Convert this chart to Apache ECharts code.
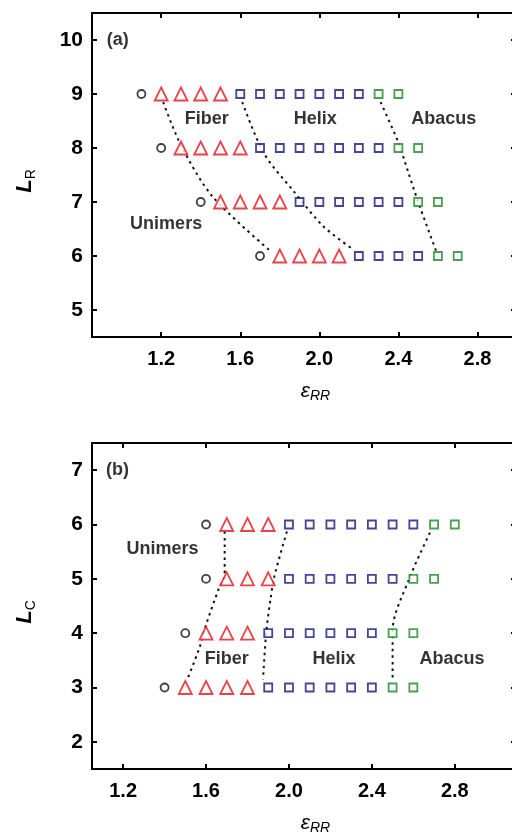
<!DOCTYPE html>
<html>
<head>
<meta charset="utf-8">
<script src="https://cdn.jsdelivr.net/npm/echarts@6/dist/echarts.min.js"></script>
<style>
html,body{margin:0;padding:0;background:#fff;}
#chart{width:512px;height:834px;}
</style>
</head>
<body>
<div id="chart"></div>
<script>
// ---------- DATA ----------
// Panel (a): L_R vs eps_RR
const xTicksA = [1.2, 1.6, 2.0, 2.4, 2.8];
const yTicksA = [5, 6, 7, 8, 9, 10];
const unimersA = [[1.1, 9], [1.2, 8], [1.4, 7], [1.7, 6]];
const fiberA = [
  [1.2, 9], [1.3, 9], [1.4, 9], [1.5, 9],
  [1.3, 8], [1.4, 8], [1.5, 8], [1.6, 8],
  [1.5, 7], [1.6, 7], [1.7, 7], [1.8, 7],
  [1.8, 6], [1.9, 6], [2.0, 6], [2.1, 6]
];
const helixA = [
  [1.6, 9], [1.7, 9], [1.8, 9], [1.9, 9], [2.0, 9], [2.1, 9], [2.2, 9],
  [1.7, 8], [1.8, 8], [1.9, 8], [2.0, 8], [2.1, 8], [2.2, 8], [2.3, 8],
  [1.9, 7], [2.0, 7], [2.1, 7], [2.2, 7], [2.3, 7], [2.4, 7],
  [2.2, 6], [2.3, 6], [2.4, 6], [2.5, 6]
];
const abacusA = [
  [2.3, 9], [2.4, 9],
  [2.4, 8], [2.5, 8],
  [2.5, 7], [2.6, 7],
  [2.6, 6], [2.7, 6]
];
const boundUF_A = [[1.21, 8.85], [1.30, 8.05], [1.46, 7.1], [1.75, 6.1]];
const boundFH_A = [[1.61, 8.85], [1.72, 7.9], [1.87, 7.2], [2.02, 6.55], [2.16, 6.15]];
const boundHA_A = [[2.31, 8.85], [2.40, 8.1], [2.45, 7.55], [2.50, 7.0], [2.59, 6.1]];
const labelsA = [
  { name: '(a)', value: [0.98, 10.0] },
  { name: 'Fiber', value: [1.43, 8.54] },
  { name: 'Helix', value: [1.98, 8.54] },
  { name: 'Abacus', value: [2.63, 8.54] },
  { name: 'Unimers', value: [1.225, 6.59] }
];

// Panel (b): L_C vs eps_RR
const xTicksB = [1.2, 1.6, 2.0, 2.4, 2.8];
const yTicksB = [2, 3, 4, 5, 6, 7];
const unimersB = [[1.6, 6], [1.6, 5], [1.5, 4], [1.4, 3]];
const fiberB = [
  [1.7, 6], [1.8, 6], [1.9, 6],
  [1.7, 5], [1.8, 5], [1.9, 5],
  [1.6, 4], [1.7, 4], [1.8, 4],
  [1.5, 3], [1.6, 3], [1.7, 3], [1.8, 3]
];
const helixB = [
  [2.0, 6], [2.1, 6], [2.2, 6], [2.3, 6], [2.4, 6], [2.5, 6], [2.6, 6],
  [2.0, 5], [2.1, 5], [2.2, 5], [2.3, 5], [2.4, 5], [2.5, 5],
  [1.9, 4], [2.0, 4], [2.1, 4], [2.2, 4], [2.3, 4], [2.4, 4],
  [1.9, 3], [2.0, 3], [2.1, 3], [2.2, 3], [2.3, 3], [2.4, 3]
];
const abacusB = [
  [2.7, 6], [2.8, 6],
  [2.6, 5], [2.7, 5],
  [2.5, 4], [2.6, 4],
  [2.5, 3], [2.6, 3]
];
const boundUF_B = [[1.69, 5.87], [1.69, 5.05], [1.66, 4.8], [1.60, 4.15], [1.57, 3.75], [1.51, 3.15]];
const boundFH_B = [[1.99, 5.87], [1.93, 5.05], [1.91, 4.6], [1.89, 4.0], [1.875, 3.15]];
const boundHA_B = [[2.68, 5.85], [2.58, 5.0], [2.50, 4.05], [2.50, 3.15]];
const labelsB = [
  { name: '(b)', value: [1.173, 7.0] },
  { name: 'Unimers', value: [1.39, 5.54] },
  { name: 'Fiber', value: [1.70, 3.53] },
  { name: 'Helix', value: [2.217, 3.53] },
  { name: 'Abacus', value: [2.786, 3.53] }
];

// ---------- STYLE ----------
const FONT = 'Liberation Sans, Arial, sans-serif';
const TXT = '#000';
const RED = '#e3131b';
const BLUE = '#16167e';
const GREEN = '#1a8a24';

function mainX(grid, min, max, ticks, nameGap) {
  return {
    type: 'value', gridIndex: grid, position: 'bottom', min: min, max: max,
    splitLine: { show: false },
    axisLine: { show: true, onZero: false, lineStyle: { color: '#000', width: 2 } },
    axisTick: { show: true, inside: true, length: 5, customValues: ticks, lineStyle: { color: '#000', width: 2 } },
    axisLabel: { show: true, customValues: ticks, margin: 12, color: TXT, fontSize: 20, fontWeight: 'bold', fontFamily: FONT,
      formatter: v => v.toFixed(1) },
    name: '{e|ε}{s|RR}', nameLocation: 'middle', nameGap: nameGap,
    nameTextStyle: { padding: [0, 0, 0, 22], rich: {
      e: { fontSize: 21, fontStyle: 'italic', fontFamily: FONT, color: TXT, lineHeight: 24, verticalAlign: 'middle' },
      s: { fontSize: 14, fontStyle: 'italic', fontFamily: FONT, color: TXT, lineHeight: 10, verticalAlign: 'bottom' }
    } }
  };
}
function topX(grid, min, max, ticks) {
  return {
    type: 'value', gridIndex: grid, position: 'top', min: min, max: max,
    splitLine: { show: false },
    axisLine: { show: true, onZero: false, lineStyle: { color: '#000', width: 2 } },
    axisTick: { show: true, inside: true, length: 5, customValues: ticks, lineStyle: { color: '#000', width: 2 } },
    axisLabel: { show: false }
  };
}
function mainY(grid, min, max, ticks, sub, nameGap) {
  return {
    type: 'value', gridIndex: grid, position: 'left', min: min, max: max,
    splitLine: { show: false },
    axisLine: { show: true, onZero: false, lineStyle: { color: '#000', width: 2 } },
    axisTick: { show: true, inside: true, length: 5, customValues: ticks, lineStyle: { color: '#000', width: 2 } },
    axisLabel: { show: true, customValues: ticks, margin: 9, color: TXT, fontSize: 21, fontWeight: 'bold', fontFamily: FONT },
    name: '{l|L}{s|' + sub + '}', nameLocation: 'middle', nameGap: nameGap,
    nameTextStyle: { padding: [0, 12, 0, 0], rich: {
      l: { fontSize: 22, fontStyle: 'italic', fontWeight: 'bold', fontFamily: FONT, color: TXT, lineHeight: 26, verticalAlign: 'middle' },
      s: { fontSize: 14, fontFamily: FONT, color: TXT, lineHeight: 12, verticalAlign: 'bottom' }
    } }
  };
}
function rightY(grid, min, max, ticks) {
  return {
    type: 'value', gridIndex: grid, position: 'right', min: min, max: max,
    splitLine: { show: false },
    axisLine: { show: true, onZero: false, lineStyle: { color: '#000', width: 2 } },
    axisTick: { show: true, inside: true, length: 6, customValues: ticks, lineStyle: { color: '#000', width: 2 } },
    axisLabel: { show: false }
  };
}

function markerSeries(axIdx, data, symbol, size, color) {
  return {
    type: 'scatter', xAxisIndex: axIdx, yAxisIndex: axIdx, data: data,
    symbol: symbol, symbolSize: size, z: 5,
    itemStyle: { color: '#fff', borderColor: color, borderWidth: 1.8 }
  };
}
function boundSeries(axIdx, data) {
  return {
    type: 'line', xAxisIndex: axIdx, yAxisIndex: axIdx, data: data,
    symbol: 'none', smooth: 0.3, z: 3,
    lineStyle: { color: '#111', width: 2, type: [2.5, 4] }
  };
}
function labelSeries(axIdx, data) {
  return {
    type: 'scatter', xAxisIndex: axIdx, yAxisIndex: axIdx, data: data,
    symbolSize: 0, z: 6, silent: true,
    label: { show: true, position: 'inside', formatter: p => p.name,
      color: TXT, fontSize: 18, fontWeight: 'bold', fontFamily: FONT }
  };
}

const chart = echarts.init(document.getElementById('chart'), null, { renderer: 'canvas' });
chart.setOption({
  animation: false,
  backgroundColor: '#fff',
  grid: [
    { left: 92, top: 13, width: 425, height: 324, outerBoundsMode: 'none', containLabel: false },
    { left: 92, top: 443, width: 425, height: 326, outerBoundsMode: 'none', containLabel: false }
  ],
  xAxis: [
    mainX(0, 0.85, 3.0, xTicksA, 42),
    mainX(1, 1.05, 3.1, xTicksB, 42),
    topX(0, 0.85, 3.0, xTicksA),
    topX(1, 1.05, 3.1, xTicksB)
  ],
  yAxis: [
    mainY(0, 4.5, 10.5, yTicksA, 'R', 54),
    mainY(1, 1.5, 7.5, yTicksB, 'C', 54),
    rightY(0, 4.5, 10.5, yTicksA),
    rightY(1, 1.5, 7.5, yTicksB)
  ],
  series: [
    boundSeries(0, boundUF_A), boundSeries(0, boundFH_A), boundSeries(0, boundHA_A),
    markerSeries(0, unimersA, 'circle', 8, '#111'),
    markerSeries(0, fiberA, 'triangle', 13, RED),
    markerSeries(0, helixA, 'rect', 8, BLUE),
    markerSeries(0, abacusA, 'rect', 8, GREEN),
    labelSeries(0, labelsA),
    boundSeries(1, boundUF_B), boundSeries(1, boundFH_B), boundSeries(1, boundHA_B),
    markerSeries(1, unimersB, 'circle', 8, '#111'),
    markerSeries(1, fiberB, 'triangle', 13, RED),
    markerSeries(1, helixB, 'rect', 8, BLUE),
    markerSeries(1, abacusB, 'rect', 8, GREEN),
    labelSeries(1, labelsB)
  ]
});
</script>
</body>
</html>
